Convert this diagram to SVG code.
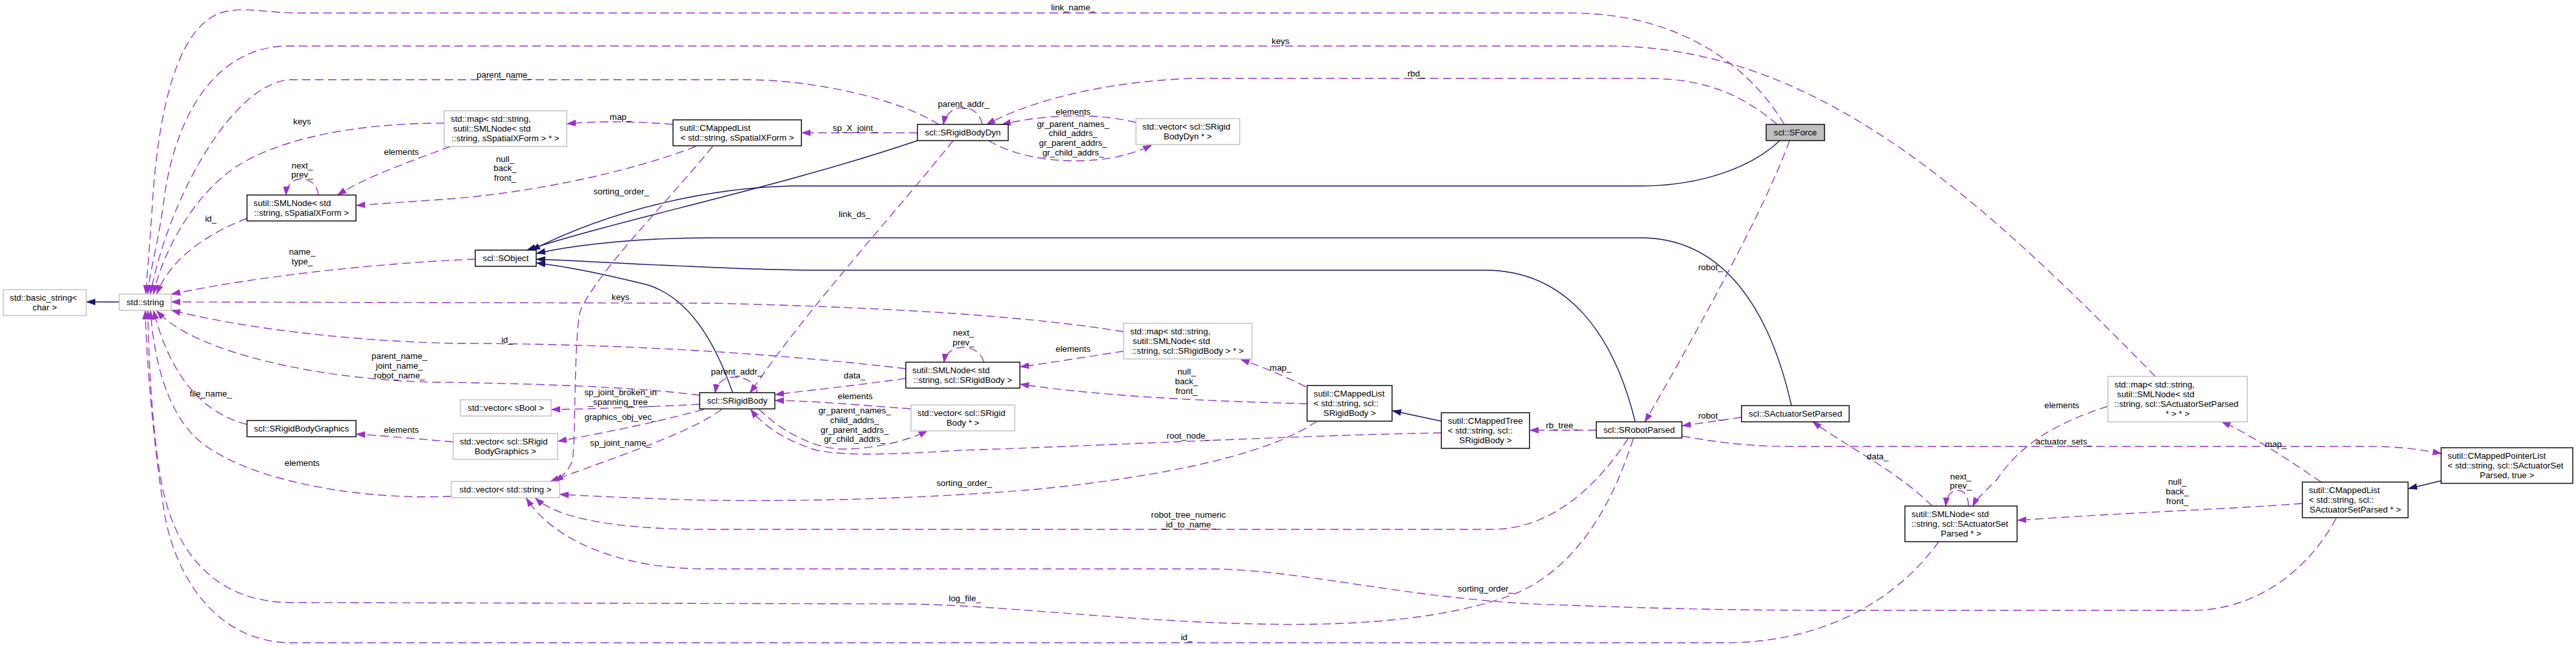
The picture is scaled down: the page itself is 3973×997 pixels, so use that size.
<svg xmlns="http://www.w3.org/2000/svg" width="3973" height="997" viewBox="0 0 3973 997">
<defs>
<style>
text{font-family:"Liberation Sans",Arial,Helvetica,sans-serif;font-size:13.3px;fill:#000}
.m{text-anchor:middle}
.s{text-anchor:start}
.b rect{fill:#fff;stroke:#000;stroke-width:1.4}
.g rect{fill:#fff;stroke:#bfbfbf;stroke-width:1.4}
.f rect{fill:#bfbfbf;stroke:#000;stroke-width:1.4}
.d{fill:none;stroke:#9a32cd;stroke-width:1.4;stroke-dasharray:13,7;marker-end:url(#ap)}
.n{fill:none;stroke:#191970;stroke-width:1.4;marker-end:url(#an)}
</style>
<marker id="ap" markerUnits="userSpaceOnUse" markerWidth="14" markerHeight="12" viewBox="0 0 14 12" refX="13" refY="6" orient="auto"><path d="M0,1.5 L13,6 L0,10.5 z" fill="#9a32cd" stroke="#9a32cd" stroke-width="1" stroke-dasharray="none"/></marker>
<marker id="an" markerUnits="userSpaceOnUse" markerWidth="14" markerHeight="12" viewBox="0 0 14 12" refX="13" refY="6" orient="auto"><path d="M0,1.5 L13,6 L0,10.5 z" fill="#191970" stroke="#191970" stroke-width="1" stroke-dasharray="none"/></marker>
</defs>
<rect width="3973" height="997" fill="#fff"/>
<g id="connectors">
<path class="n" d="M184,466 L134,466"/>
<path class="n" d="M1415,217 C1200,290 950,340 813,386"/>
<path class="n" d="M2745,217 C2700,260 2620,287 2530,287 L1220,287 C1100,290 950,320 820,386"/>
<path class="n" d="M2763,626 C2730,480 2660,367 2530,367 L1100,367 C1000,367 900,375 828,391"/>
<path class="n" d="M2522,651 C2490,520 2420,417 2290,417 L1240,417 C1100,415 950,405 828,400"/>
<path class="n" d="M1130,606 C1100,520 1060,460 1000,440 C940,425 880,412 828,406"/>
<path class="n" d="M2223,650 L2148,634"/>
<path class="n" d="M3765,742 L3715,754"/>

<path class="d" d="M2752,192 C2715,130 2620,20 2420,20 L450,20 C400,18 372,10 340,20 C270,45 245,180 236,300 C231,380 227,420 225,453"/>
<path class="d" d="M3324,581 C3050,300 2800,71 2480,71 L440,71 C330,75 272,180 254,300 C244,380 230,420 228,453"/>
<path class="d" d="M1448,192 C1380,150 1250,123 1150,123 L446,123 C360,130 262,300 232,453"/>
<path class="d" d="M685,190 C600,190 450,200 360,260 C290,310 248,400 237,453"/>
<path class="d" d="M381,337 C320,360 262,400 242,453"/>
<path class="d" d="M733,400 C600,405 400,425 265,454"/>
<path class="d" d="M1733,512 C1600,490 1400,475 1100,468 L265,466"/>
<path class="d" d="M1397,569 C1150,540 900,530 700,530 C500,525 350,500 265,479"/>
<path class="d" d="M1079,610 C980,597 820,592 680,590 C500,588 300,545 242,480"/>
<path class="d" d="M381,655 C320,640 265,590 237,480"/>
<path class="d" d="M696,766 C560,772 400,745 320,690 C260,650 238,560 232,480"/>
<path class="d" d="M2519,677 C2480,800 2420,880 2340,915 C2200,970 2000,965 1900,962 C1700,955 1550,935 1400,932 L450,930 C330,930 270,850 250,750 C236,680 229,560 228,480"/>
<path class="d" d="M2990,836 C2930,920 2820,992 2660,992 L450,992 C340,992 275,900 255,800 C238,700 226,560 224,480"/>
<path class="d" d="M2511,677 C2470,740 2400,817 2300,817 L1090,817 C950,817 860,800 826,769"/>
<path class="d" d="M3603,800 C3560,880 3480,942 3380,942 L2830,942 C2600,942 2450,935 2360,932 C2150,920 2000,878 1860,878 L1090,878 C950,878 850,830 812,769"/>
<path class="d" d="M1113,632 C1060,670 950,705 849,743"/>
<path class="d" d="M1079,624 C1000,628 920,631 851,632"/>
<path class="d" d="M1085,632 C1000,655 920,670 861,681"/>
<path class="d" d="M1099,226 C1040,300 920,420 895,480 C885,520 888,680 883,710 C878,725 868,735 856,743"/>
<path class="d" d="M1073,226 C960,270 800,300 680,308 C620,312 580,315 550,317"/>
<path class="d" d="M1038,192 C990,188 930,186 875,191"/>
<path class="d" d="M695,226 C630,250 560,275 521,301"/>
<path class="d" d="M491,301 C490,285 477,276 465,276 C452,276 442,285 441,301"/>
<path class="d" d="M1415,205 L1237,205"/>
<path class="d" d="M1515,192 C1512,176 1500,166 1485,166 C1470,166 1458,176 1455,192"/>
<path class="d" d="M2741,192 C2680,140 2620,121 2540,121 L1840,121 C1720,125 1600,150 1522,192"/>
<path class="d" d="M1470,217 C1380,330 1250,470 1157,606"/>
<path class="d" d="M1752,189 C1700,176 1620,174 1546,192"/>
<path class="d" d="M1525,217 C1580,252 1700,262 1776,224"/>
<path class="d" d="M2686,644 C2660,648 2630,652 2595,657"/>
<path class="d" d="M2760,217 C2720,330 2590,560 2537,651"/>
<path class="d" d="M2462,664 L2360,664"/>
<path class="d" d="M2594,673 C2650,683 2700,689 2760,689 L3650,689 C3700,689 3730,693 3765,700"/>
<path class="d" d="M2980,781 C2930,730 2850,690 2796,651"/>
<path class="d" d="M3036,781 C3036,766 3030,757 3020,757 C3008,757 3002,766 3001,781"/>
<path class="d" d="M3251,627 C3180,650 3120,680 3080,740 C3060,760 3048,770 3043,781"/>
<path class="d" d="M3580,744 C3530,710 3470,670 3427,651"/>
<path class="d" d="M3551,777 C3450,785 3300,790 3112,803"/>
<path class="d" d="M2223,668 C2000,672 1700,688 1480,695 C1400,700 1310,705 1260,695 C1210,680 1175,655 1158,632"/>
<path class="d" d="M1170,631 C1210,670 1260,693 1300,693 C1350,693 1400,680 1430,665"/>
<path class="d" d="M1397,584 C1320,595 1250,602 1196,609"/>
<path class="d" d="M1405,631 C1320,625 1260,619 1196,618"/>
<path class="d" d="M1168,606 C1165,590 1150,582 1133,582 C1115,582 1105,592 1103,606"/>
<path class="d" d="M1733,542 C1680,550 1620,560 1574,566"/>
<path class="d" d="M1517,559 C1515,545 1500,536 1486,536 C1470,536 1458,545 1456,559"/>
<path class="d" d="M2016,623 C1880,620 1700,612 1574,593"/>
<path class="d" d="M2014,597 C1980,580 1950,567 1914,555"/>
<path class="d" d="M2031,650 C1960,700 1800,735 1600,755 C1480,765 1300,775 1088,772 C1000,770 900,765 864,763"/>
<path class="d" d="M699,682 C650,678 600,673 550,670"/>

<g class="lbl">
<text class="m" x="1655" y="16">link_name_</text>
<text class="m" x="1975" y="68">keys</text>
<text class="m" x="2184" y="118">rbd_</text>
<text class="m" x="778" y="120">parent_name_</text>
<text class="m" x="466" y="192">keys</text>
<text class="m" x="619" y="239">elements</text>
<text class="m" x="466" y="260">next_</text>
<text class="m" x="466" y="274">prev_</text>
<text class="m" x="325" y="342">id_</text>
<text class="m" x="466" y="393">name_</text>
<text class="m" x="466" y="408">type_</text>
<text class="m" x="616" y="554">parent_name_</text>
<text class="m" x="616" y="569">joint_name_</text>
<text class="m" x="616" y="584">robot_name_</text>
<text class="m" x="325" y="612">file_name_</text>
<text class="m" x="619" y="668">elements</text>
<text class="m" x="466" y="719">elements</text>
<text class="m" x="957" y="185">map_</text>
<text class="m" x="1319" y="202">sp_X_joint_</text>
<text class="m" x="779" y="250">null_</text>
<text class="m" x="779" y="264">back_</text>
<text class="m" x="779" y="279">front_</text>
<text class="m" x="958" y="300">sorting_order_</text>
<text class="m" x="1318" y="335">link_ds_</text>
<text class="m" x="957" y="463">keys</text>
<text class="m" x="1486" y="165">parent_addr_</text>
<text class="m" x="1655" y="177">elements</text>
<text class="m" x="1655" y="196">gr_parent_names_</text>
<text class="m" x="1655" y="210">child_addrs_</text>
<text class="m" x="1655" y="225">gr_parent_addrs_</text>
<text class="m" x="1655" y="240">gr_child_addrs_</text>
<text class="m" x="782" y="529">id_</text>
<text class="m" x="1136" y="578">parent_addr_</text>
<text class="m" x="1318" y="584">data_</text>
<text class="m" x="957" y="610">sp_joint_broken_in</text>
<text class="m" x="957" y="625">_spanning_tree_</text>
<text class="m" x="1319" y="616">elements</text>
<text class="m" x="1318" y="638">gr_parent_names_</text>
<text class="m" x="1318" y="653">child_addrs_</text>
<text class="m" x="1318" y="668">gr_parent_addrs_</text>
<text class="m" x="1318" y="682">gr_child_addrs_</text>
<text class="m" x="957" y="648">graphics_obj_vec_</text>
<text class="m" x="957" y="688">sp_joint_name_</text>
<text class="m" x="1487" y="750">sorting_order_</text>
<text class="m" x="1488" y="928">log_file_</text>
<text class="m" x="1486" y="518">next_</text>
<text class="m" x="1486" y="533">prev_</text>
<text class="m" x="1655" y="543">elements</text>
<text class="m" x="1830" y="578">null_</text>
<text class="m" x="1830" y="593">back_</text>
<text class="m" x="1830" y="608">front_</text>
<text class="m" x="1975" y="572">map_</text>
<text class="m" x="1833" y="677">root_node_</text>
<text class="m" x="1833" y="799">robot_tree_numeric</text>
<text class="m" x="1833" y="814">_id_to_name_</text>
<text class="m" x="2291" y="913">sorting_order_</text>
<text class="m" x="1830" y="988">id_</text>
<text class="m" x="2638" y="417">robot_</text>
<text class="m" x="2638" y="646">robot_</text>
<text class="m" x="2409" y="661">rb_tree_</text>
<text class="m" x="2896" y="709">data_</text>
<text class="m" x="3024" y="740">next_</text>
<text class="m" x="3024" y="754">prev_</text>
<text class="m" x="3180" y="630">elements</text>
<text class="m" x="3183" y="686">actuator_sets_</text>
<text class="m" x="3510" y="690">map_</text>
<text class="m" x="3358" y="748">null_</text>
<text class="m" x="3358" y="763">back_</text>
<text class="m" x="3358" y="778">front_</text>
</g>
</g>

<g id="n_basic_string" class="g"><rect x="5" y="447" width="128" height="40"/><text class="s" x="15" y="464">std::basic_string&lt;</text><text class="m" x="69" y="479">char &gt;</text></g>
<g id="n_string" class="g"><rect x="184" y="454" width="80" height="25"/><text class="m" x="224" y="471">std::string</text></g>
<g id="n_smlnode_xform" class="b"><rect x="381" y="301" width="168" height="40"/><text class="s" x="391" y="318">sutil::SMLNode&lt; std</text><text class="m" x="465" y="333">::string, sSpatialXForm &gt;</text></g>
<g id="n_map_xform" class="g"><rect x="685" y="171" width="189" height="55"/><text class="s" x="695" y="188">std::map&lt; std::string,</text><text class="s" x="699" y="203">sutil::SMLNode&lt; std</text><text class="m" x="779.5" y="218">::string, sSpatialXForm &gt; * &gt;</text></g>
<g id="n_mappedlist_xform" class="b"><rect x="1038" y="185" width="198" height="40"/><text class="s" x="1048" y="202">sutil::CMappedList</text><text class="m" x="1137" y="217">&lt; std::string, sSpatialXForm &gt;</text></g>
<g id="n_sobject" class="b"><rect x="733" y="386" width="94" height="25"/><text class="m" x="780" y="403">scl::SObject</text></g>
<g id="n_srigidbodydyn" class="b"><rect x="1415" y="192" width="140" height="25"/><text class="m" x="1485" y="209">scl::SRigidBodyDyn</text></g>
<g id="n_vec_dyn" class="g"><rect x="1752" y="183" width="160" height="40"/><text class="s" x="1762" y="200">std::vector&lt; scl::SRigid</text><text class="m" x="1832" y="215">BodyDyn * &gt;</text></g>
<g id="n_sforce" class="f"><rect x="2724" y="192" width="90" height="25"/><text class="m" x="2769" y="209">scl::SForce</text></g>
<g id="n_srbgraphics" class="b"><rect x="381" y="649" width="168" height="25"/><text class="m" x="465" y="666">scl::SRigidBodyGraphics</text></g>
<g id="n_vec_sbool" class="g"><rect x="710" y="617" width="140" height="25"/><text class="m" x="780" y="634">std::vector&lt; sBool &gt;</text></g>
<g id="n_vec_graphics" class="g"><rect x="699" y="669" width="161" height="40"/><text class="s" x="709" y="686">std::vector&lt; scl::SRigid</text><text class="m" x="779.5" y="701">BodyGraphics &gt;</text></g>
<g id="n_vec_string" class="g"><rect x="696" y="743" width="167" height="25"/><text class="m" x="779.5" y="760">std::vector&lt; std::string &gt;</text></g>
<g id="n_srigidbody" class="b"><rect x="1079" y="606" width="116" height="25"/><text class="m" x="1137" y="623">scl::SRigidBody</text></g>
<g id="n_smlnode_rb" class="b"><rect x="1397" y="559" width="176" height="40"/><text class="s" x="1407" y="576">sutil::SMLNode&lt; std</text><text class="m" x="1485" y="591">::string, scl::SRigidBody &gt;</text></g>
<g id="n_vec_rb" class="g"><rect x="1405" y="625" width="160" height="40"/><text class="s" x="1415" y="642">std::vector&lt; scl::SRigid</text><text class="m" x="1485" y="657">Body * &gt;</text></g>
<g id="n_map_rb" class="g"><rect x="1733" y="499" width="198" height="55"/><text class="s" x="1743" y="516">std::map&lt; std::string,</text><text class="s" x="1747" y="531">sutil::SMLNode&lt; std</text><text class="m" x="1832" y="546">::string, scl::SRigidBody &gt; * &gt;</text></g>
<g id="n_mappedlist_rb" class="b"><rect x="2016" y="595" width="131" height="55"/><text class="s" x="2026" y="612">sutil::CMappedList</text><text class="s" x="2026" y="627">&lt; std::string, scl::</text><text class="m" x="2081.5" y="642">SRigidBody &gt;</text></g>
<g id="n_mappedtree_rb" class="b"><rect x="2223" y="637" width="136" height="55"/><text class="s" x="2233" y="654">sutil::CMappedTree</text><text class="s" x="2233" y="669">&lt; std::string, scl::</text><text class="m" x="2291" y="684">SRigidBody &gt;</text></g>
<g id="n_srobotparsed" class="b"><rect x="2462" y="651" width="132" height="25"/><text class="m" x="2528" y="668">scl::SRobotParsed</text></g>
<g id="n_sactuatorsetparsed" class="b"><rect x="2686" y="626" width="166" height="25"/><text class="m" x="2769" y="643">scl::SActuatorSetParsed</text></g>
<g id="n_smlnode_act" class="b"><rect x="2938" y="781" width="173" height="55"/><text class="s" x="2948" y="798">sutil::SMLNode&lt; std</text><text class="s" x="2948" y="813">::string, scl::SActuatorSet</text><text class="m" x="3024.5" y="828">Parsed * &gt;</text></g>
<g id="n_map_act" class="g"><rect x="3251" y="581" width="215" height="70"/><text class="s" x="3261" y="598">std::map&lt; std::string,</text><text class="s" x="3265" y="613">sutil::SMLNode&lt; std</text><text class="s" x="3261" y="628">::string, scl::SActuatorSetParsed</text><text class="m" x="3358.5" y="643">* &gt; * &gt;</text></g>
<g id="n_mappedpointerlist" class="b"><rect x="3765" y="691" width="203" height="55"/><text class="s" x="3775" y="708">sutil::CMappedPointerList</text><text class="s" x="3775" y="723">&lt; std::string, scl::SActuatorSet</text><text class="m" x="3866.5" y="738">Parsed, true &gt;</text></g>
<g id="n_mappedlist_act" class="b"><rect x="3551" y="744" width="163" height="55"/><text class="s" x="3561" y="761">sutil::CMappedList</text><text class="s" x="3561" y="776">&lt; std::string, scl::</text><text class="m" x="3632.5" y="791">SActuatorSetParsed * &gt;</text></g>
</svg>
